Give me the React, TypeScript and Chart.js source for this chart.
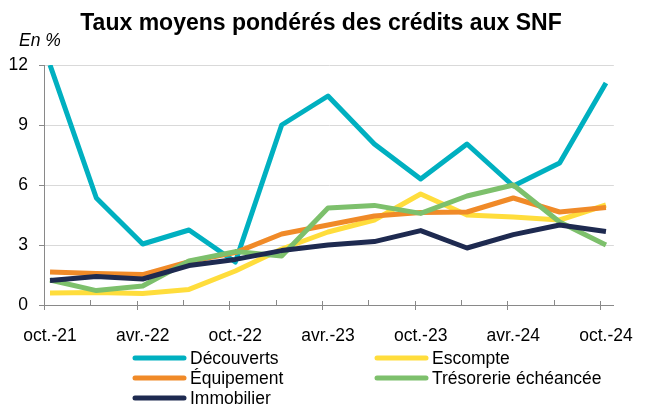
import React, { useEffect, useRef } from "react";
import { Chart, registerables } from "chart.js";

Chart.register(...registerables);

const categories = [
  "oct.-21", "janv.-22", "avr.-22", "juil.-22", "oct.-22", "janv.-23", "avr.-23",
  "juil.-23", "oct.-23", "janv.-24", "avr.-24", "juil.-24", "oct.-24",
];

const decouverts = [12.0, 5.35, 3.05, 3.75, 2.15, 9.0, 10.45, 8.05, 6.3, 8.05, 5.95, 7.1, 11.1];
const escompte = [0.6, 0.62, 0.58, 0.78, 1.7, 2.8, 3.65, 4.25, 5.55, 4.5, 4.4, 4.25, 5.0];
const equipement = [1.65, 1.58, 1.52, 2.17, 2.62, 3.55, 4.0, 4.45, 4.62, 4.65, 5.35, 4.65, 4.88];
const tresorerie = [1.25, 0.72, 0.95, 2.2, 2.67, 2.45, 4.85, 4.98, 4.58, 5.45, 6.0, 4.15, 3.0];
const immobilier = [1.22, 1.42, 1.3, 1.97, 2.28, 2.72, 3.0, 3.17, 3.72, 2.85, 3.52, 4.0, 3.68];

const yTicks = [0, 3, 6, 9, 12];

const seriesNames = ["Découverts", "Escompte", "Équipement", "Trésorerie échéancée", "Immobilier"];
const seriesValues = [decouverts, escompte, equipement, tresorerie, immobilier];
const seriesColors = ["#00B0C0", "#FFDD3C", "#F08A28", "#7DC06C", "#1E2A50"];

const FONT = "'Liberation Sans', Arial, sans-serif";
const TICK_SHIFT = 0.13;

const overlay = {
  id: "overlay",
  afterDraw(chart: any) {
    const ctx = chart.ctx;
    const xs = chart.scales.x;
    const ys = chart.scales.y;
    ctx.save();
    // title
    ctx.fillStyle = "#000";
    ctx.font = `bold 23px ${FONT}`;
    ctx.textAlign = "center";
    ctx.textBaseline = "alphabetic";
    ctx.fillText("Taux moyens pondérés des crédits aux SNF", 321, 30);
    ctx.font = `italic 17.5px ${FONT}`;
    ctx.textAlign = "left";
    ctx.fillText("En %", 19, 46);

    // x tick marks
    const y0 = ys.getPixelForValue(0);
    ctx.strokeStyle = "#898989";
    ctx.lineWidth = 1;
    for (let i = 0; i < categories.length; i++) {
      const px = Math.round(xs.getPixelForValue(i - TICK_SHIFT)) + 0.5;
      ctx.beginPath();
      if (i % 2 === 0) {
        ctx.moveTo(px, y0 - 4);
        ctx.lineTo(px, y0 + 5);
      } else {
        ctx.moveTo(px, y0 - 5);
        ctx.lineTo(px, y0);
      }
      ctx.stroke();
    }

    // legend
    const cols = [133, 375];
    const rows = [358, 378, 398];
    ctx.font = `17.5px ${FONT}`;
    ctx.textBaseline = "middle";
    ctx.textAlign = "left";
    seriesNames.forEach((name, k) => {
      const cx = cols[k % 2];
      const cy = rows[Math.floor(k / 2)];
      ctx.strokeStyle = seriesColors[k];
      ctx.lineWidth = 5;
      ctx.lineCap = "round";
      ctx.beginPath();
      ctx.moveTo(cx + 2, cy);
      ctx.lineTo(cx + 51, cy);
      ctx.stroke();
      ctx.fillStyle = "#000";
      ctx.fillText(name, cx + 57, cy + 1);
    });
    ctx.restore();
  },
};

export default function App() {
  const ref = useRef<HTMLCanvasElement | null>(null);

  useEffect(() => {
    document.body.style.margin = "0";
    const canvas = ref.current;
    if (!canvas) return;
    const chart = new Chart(canvas, {
      type: "line",
      data: {
        datasets: seriesNames.map((name, k) => ({
          label: name,
          data: seriesValues[k].map((v, i) => ({ x: i, y: v })),
          borderColor: seriesColors[k],
          backgroundColor: seriesColors[k],
          borderWidth: 5,
          pointRadius: 0,
          tension: 0,
          borderJoinStyle: "round" as const,
          order: seriesNames.length - k,
        })),
      },
      options: {
        responsive: false,
        animation: false,
        devicePixelRatio: 1,
        layout: { padding: { top: 65, right: 21, left: 0, bottom: 0 } },
        plugins: {
          legend: { display: false },
          title: { display: false },
          tooltip: { enabled: false },
        },
        scales: {
          x: {
            type: "linear",
            min: -TICK_SHIFT,
            max: categories.length - 1 + 0.17,
            afterBuildTicks: (scale: any) => {
              scale.ticks = categories.map((_, i) => ({ value: i }));
            },
            afterFit: (scale: any) => {
              scale.height = 101;
            },
            grid: { display: false },
            border: { display: true, color: "#898989", width: 1 },
            ticks: {
              autoSkip: false,
              maxRotation: 0,
              padding: 13,
              color: "#000",
              font: { family: FONT, size: 17.5 },
              callback: (v: any) => {
                const i = Math.round(Number(v));
                return i % 2 === 0 ? categories[i] : "";
              },
            },
          },
          y: {
            min: 0,
            max: 12,
            afterBuildTicks: (scale: any) => {
              scale.ticks = yTicks.map((v) => ({ value: v }));
            },
            afterFit: (scale: any) => {
              scale.width = 44;
            },
            grid: {
              color: (c: any) => (c.tick && c.tick.value === 0 ? "rgba(0,0,0,0)" : "#D9D9D9"),
              tickColor: "#898989",
              tickLength: 5,
              lineWidth: 1,
            },
            border: { display: true, color: "#898989", width: 1 },
            ticks: {
              padding: 11,
              color: "#000",
              font: { family: FONT, size: 17.5 },
            },
          },
        },
      },
      plugins: [overlay],
    });
    return () => chart.destroy();
  }, []);

  return (
    <div style={{ width: 646, height: 406, position: "relative" }}>
      <canvas ref={ref} width={646} height={406} style={{ display: "block" }} />
    </div>
  );
}
